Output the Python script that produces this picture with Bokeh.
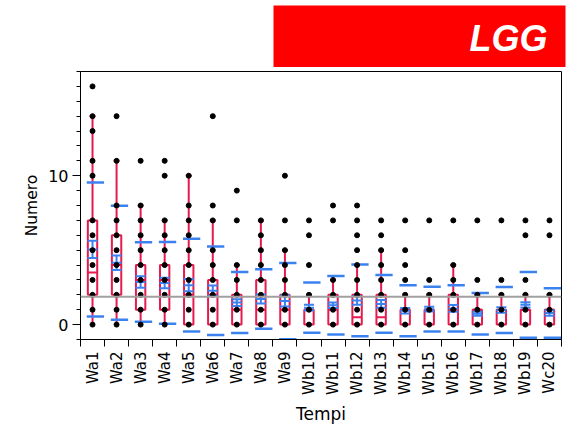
import math
from bokeh.plotting import figure
from bokeh.layouts import column
from bokeh.models import Range1d, FixedTicker, Span, ColumnDataSource
from bokeh.core.properties import value
from bokeh.embed import file_html
from bokeh.resources import INLINE

# ---------------- data ----------------
categories = ["Wa1", "Wa2", "Wa3", "Wa4", "Wa5", "Wa6", "Wa7", "Wa8", "Wa9", "Wb10",
              "Wb11", "Wb12", "Wb13", "Wb14", "Wb15", "Wb16", "Wb17", "Wb18", "Wb19", "Wc20"]

points = [
    [0, 1, 2, 3, 4, 5, 6, 7, 10, 11, 13, 14, 16],
    [0, 1, 2, 3, 4, 5, 6, 7, 8, 11, 14],
    [0, 1, 2, 3, 4, 5, 6, 7, 8, 11],
    [0, 1, 2, 3, 4, 5, 6, 7, 10, 11],
    [0, 1, 2, 3, 4, 5, 6, 7, 8, 10],
    [0, 1, 2, 3, 4, 5, 7, 8, 14],
    [0, 1, 2, 3, 4, 7, 9],
    [0, 1, 2, 3, 4, 5, 6, 7],
    [0, 1, 2, 3, 4, 5, 7, 10],
    [0, 1, 2, 4, 6, 7],
    [0, 1, 2, 3, 7, 8],
    [0, 1, 2, 3, 4, 5, 6, 7, 8],
    [0, 1, 2, 3, 4, 5, 6, 7],
    [0, 1, 2, 3, 4, 5, 7],
    [0, 1, 2, 3, 7],
    [0, 1, 2, 3, 4, 7],
    [0, 1, 2, 3, 7],
    [0, 1, 2, 3, 7],
    [0, 1, 2, 3, 6, 7],
    [0, 1, 2, 6, 7],
]

q1 = [2, 2, 1, 1, 0, 0, 0, 0, 0, 0, 0, 0, 0, 0, 0, 0, 0, 0, 0, 0]
median = [3.5, 4, 3, 3, 2, 2, 1, 1, 1, 1, 1, 0.5, 0.5, 1, 1, 1, 1, 1, 1, 1]
q3 = [7, 6, 4, 4, 4, 3, 2, 3, 2, 1, 2, 2, 2, 1, 1, 2, 1, 1, 1, 1]
whisker_lo = [0] * 20
whisker_hi = [14, 11, 8, 7, 10, 7, 4, 7, 5, 2, 3, 4, 5, 2, 2, 4, 2, 2, 2, 2]

means = [5.05, 4.15, 2.86, 2.8, 2.65, 2.28, 1.48, 1.72, 1.58, 1.14,
         1.3, 1.62, 1.39, 0.93, 1.04, 1.09, 0.73, 0.98, 1.33, 0.78]
std_err = [0.58, 0.49, 0.38, 0.35, 0.41, 0.34, 0.23, 0.3, 0.37, 0.19,
           0.19, 0.28, 0.26, 0.19, 0.16, 0.22, 0.13, 0.18, 0.18, 0.19]
std_dev = [4.5, 3.83, 2.67, 2.75, 3.11, 2.97, 2.05, 2.0, 2.56, 1.69,
           1.97, 2.41, 1.94, 1.72, 1.5, 1.56, 1.39, 1.54, 2.21, 1.67]
grand_mean = 1.87

y_major = [0, 10]
y_minor = list(range(-1, 18))

header_text = "LGG"

RED = "#e8194f"
BLUE = "#3b82f0"

# ---------------- header (red banner) ----------------
W, HH = 568, 67
h = figure(width=W, height=HH, output_backend="svg", toolbar_location=None,
           x_range=Range1d(0, W), y_range=Range1d(0, HH),
           x_axis_location=None, y_axis_location=None,
           min_border=0, min_border_left=0, min_border_right=0,
           min_border_top=0, min_border_bottom=0)
h.frame_align = False
h.grid.visible = False
h.outline_line_color = None
h.background_fill_color = "white"
h.border_fill_color = "white"
h.quad(left=[273], right=[565], bottom=[0], top=[62], fill_color="#ff0000", line_color=None)
h.text(x=[547], y=[29], text=[header_text], text_align="right", text_baseline="middle",
       text_font=value("Liberation Sans"), text_font_style="bold italic",
       text_font_size="36px", text_color="white")

# ---------------- main figure ----------------
p = figure(width=W, height=426 - HH, output_backend="svg", toolbar_location=None,
           x_range=Range1d(0.5, 20.5), y_range=Range1d(-1, 17),
           min_border_left=80, min_border_right=7, min_border_top=4, min_border_bottom=85)
p.frame_align = False
p.grid.visible = False
p.outline_line_color = "black"
p.outline_line_width = 1
p.background_fill_color = "white"
p.border_fill_color = "white"

xs = list(range(1, len(categories) + 1))

# x axis
p.xaxis.ticker = FixedTicker(ticks=xs, minor_ticks=[i + 0.5 for i in range(0, 21)])
p.xaxis.major_label_overrides = {x: c for x, c in zip(xs, categories)}
p.xaxis.major_label_orientation = math.pi / 2
p.xaxis.major_tick_out = 0
p.xaxis.major_tick_in = 0
p.xaxis.minor_tick_out = 7
p.xaxis.minor_tick_in = 0
p.xaxis.major_label_standoff = 5
p.xaxis.major_label_text_font = "DejaVu Sans"
p.xaxis.major_label_text_font_size = "15px"
p.xaxis.major_label_text_color = "black"
p.xaxis.axis_label = "Tempi"
p.xaxis.axis_label_text_font = "DejaVu Sans"
p.xaxis.axis_label_text_font_size = "17px"
p.xaxis.axis_label_text_font_style = "normal"
p.xaxis.axis_label_text_color = "black"
p.xaxis.axis_label_standoff = 6

# y axis
p.yaxis.ticker = FixedTicker(ticks=y_major, minor_ticks=y_minor)
p.yaxis.major_tick_out = 8
p.yaxis.major_tick_in = 0
p.yaxis.minor_tick_out = 4
p.yaxis.minor_tick_in = 0
p.yaxis.major_label_standoff = 4
p.yaxis.major_label_text_font = "DejaVu Sans"
p.yaxis.major_label_text_font_size = "16px"
p.yaxis.major_label_text_color = "black"
p.yaxis.axis_label = "Numero"
p.yaxis.axis_label_text_font = "DejaVu Sans"
p.yaxis.axis_label_text_font_size = "15.5px"
p.yaxis.axis_label_text_font_style = "normal"
p.yaxis.axis_label_text_color = "black"
p.yaxis.axis_label_standoff = 4

for ax in (p.xaxis, p.yaxis):
    ax.axis_line_color = "black"
    ax.major_tick_line_color = "black"
    ax.minor_tick_line_color = "black"

# grand mean line
p.add_layout(Span(location=grand_mean, dimension="width", line_color="#a0a0a0", line_width=2))

# boxes
bw = 0.195
box_src = ColumnDataSource(dict(
    x=xs, left=[x - bw for x in xs], right=[x + bw for x in xs],
    q1=q1, q3=q3, med=median, wlo=whisker_lo, whi=whisker_hi,
    cl=[x - 0.12 for x in xs], cr=[x + 0.12 for x in xs]))
p.quad(left="left", right="right", bottom="q1", top="q3", source=box_src,
       fill_color=None, line_color=RED, line_width=2)
p.segment(x0="left", x1="right", y0="med", y1="med", source=box_src, line_color=RED, line_width=2)
p.segment(x0="x", x1="x", y0="q3", y1="whi", source=box_src, line_color=RED, line_width=2)
p.segment(x0="x", x1="x", y0="q1", y1="wlo", source=box_src, line_color=RED, line_width=2)
p.segment(x0="cl", x1="cr", y0="whi", y1="whi", source=box_src, line_color=RED, line_width=2)

# means, standard errors, std dev lines
mw = 0.21
stat_src = ColumnDataSource(dict(
    x=xs, l=[x - mw for x in xs], r=[x + mw for x in xs],
    m=means,
    lo=[m - s for m, s in zip(means, std_err)],
    hi=[m + s for m, s in zip(means, std_err)],
    sdlo=[m - s for m, s in zip(means, std_dev)],
    sdhi=[m + s for m, s in zip(means, std_dev)],
    sl=[x - 0.24 for x in xs], sr=[x + 0.48 for x in xs]))
p.segment(x0="x", x1="x", y0="lo", y1="hi", source=stat_src, line_color=BLUE, line_width=2)
p.segment(x0="l", x1="r", y0="lo", y1="lo", source=stat_src, line_color=BLUE, line_width=2)
p.segment(x0="l", x1="r", y0="hi", y1="hi", source=stat_src, line_color=BLUE, line_width=2)
p.segment(x0="l", x1="r", y0="m", y1="m", source=stat_src, line_color=BLUE, line_width=2)
p.segment(x0="sl", x1="sr", y0="sdhi", y1="sdhi", source=stat_src, line_color=BLUE, line_width=2.5)
p.segment(x0="sl", x1="sr", y0="sdlo", y1="sdlo", source=stat_src, line_color=BLUE, line_width=2.5)

# data points
px, py = [], []
for x, vals in zip(xs, points):
    for v in vals:
        px.append(x)
        py.append(v)
p.scatter(px, py, size=5, color="black")

layout = column(h, p, spacing=0)
open("out.html", "w").write(file_html(layout, INLINE))
